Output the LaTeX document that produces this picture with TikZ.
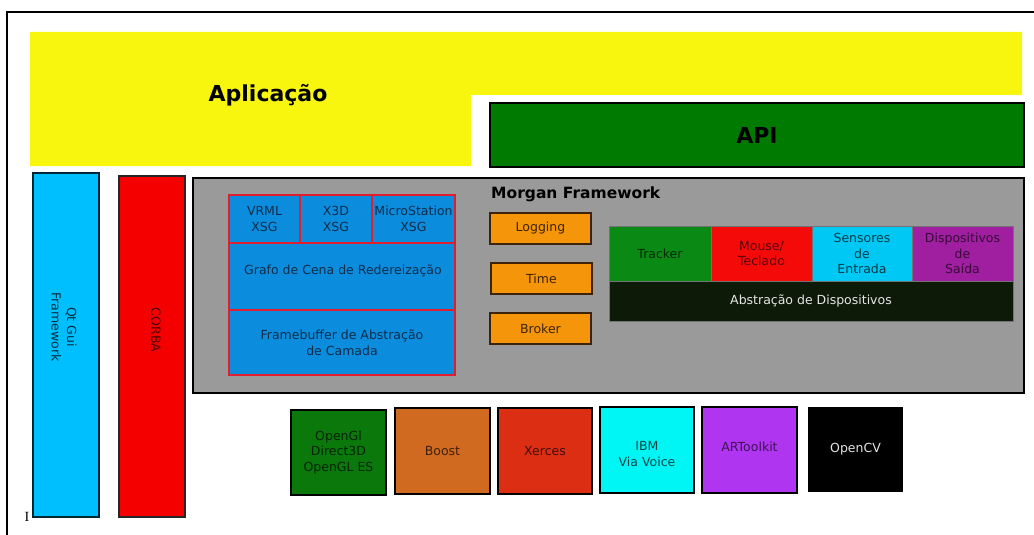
\documentclass[tikz,border=0pt]{standalone}
\usepackage{fontspec}
\setmainfont{DejaVu Sans}
\newfontfamily\serifI{Liberation Serif}
\definecolor{appyellow}{RGB}{248,245,15}
\definecolor{apigreen}{RGB}{0,122,0}
\definecolor{qtcyan}{RGB}{0,191,255}
\definecolor{corbared}{RGB}{245,0,0}
\definecolor{morgangray}{RGB}{154,154,154}
\definecolor{sgblue}{RGB}{12,140,220}
\definecolor{sgborder}{RGB}{225,30,45}
\definecolor{sgtext}{RGB}{15,45,75}
\definecolor{utilorange}{RGB}{245,150,10}
\definecolor{utilborder}{RGB}{60,35,10}
\definecolor{trkgreen}{RGB}{10,138,20}
\definecolor{mousered}{RGB}{245,10,10}
\definecolor{senscyan}{RGB}{0,200,245}
\definecolor{disppurple}{RGB}{160,30,160}
\definecolor{absdark}{RGB}{13,26,8}
\definecolor{glgreen}{RGB}{10,120,10}
\definecolor{boostor}{RGB}{208,106,32}
\definecolor{xercred}{RGB}{220,46,18}
\definecolor{ibmcyan}{RGB}{0,245,245}
\definecolor{arpurple}{RGB}{176,53,240}
\tikzset{
  lbl/.style={font=\fontsize{12.5}{15.5}\selectfont, align=center},
  box/.style={lbl, inner sep=0pt, outer sep=0pt},
  bigbox/.style={box, draw=black, line width=2.2pt},
  sgcell/.style={box, fill=sgblue, draw=sgborder, line width=1.6pt, text=sgtext},
  utilbox/.style={box, fill=utilorange, draw=utilborder, line width=1.5pt, text=utilborder},
  devcell/.style={box, draw=black!55, line width=0.8pt},
  libbox/.style={box, draw=black, line width=2.6pt},
  title/.style={font=\bfseries\fontsize{22}{26}\selectfont},
}
% \bx{style}{name}{x1}{y1}{x2}{y2} {text};
\newcommand\bx[6]{%
  \pgfmathsetmacro\bxw{#5-#3}\pgfmathsetmacro\bxh{#6-#4}%
  \node[#1, minimum width=\bxw pt, minimum height=\bxh pt, anchor=north west] (#2) at (#3,#4)}
\begin{document}
\begin{tikzpicture}[x=1pt,y=-1pt]
\useasboundingbox (0,0) rectangle (1034,535);
% frame
\draw[line width=2.5pt] (7,535) -- (7,12) -- (1034,12);
% Aplicacao
\fill[appyellow] (30,32) -- (1022,32) -- (1022,95) -- (471,95) -- (471,166) -- (30,166) -- cycle;
\node[title] (app) at (268,95) {Aplicação};
% API
\bx{bigbox, fill=apigreen, title}{api}{490}{103}{1024}{167} {API};
% Qt and CORBA
\bx{box, fill=qtcyan, draw=black!80!qtcyan, line width=2pt}{qt}{33}{173}{99}{517} {};
\node[lbl, rotate=-90, text=black!75!qtcyan] (qtlbl) at (64,327) {Qt Gui\\Framework};
\bx{box, fill=corbared, draw=black!85, line width=2pt}{corba}{119}{176}{185}{517} {};
\node[lbl, rotate=-90, text=black!70!corbared] (corbalbl) at (156,330) {CORBA};
% Morgan framework
\bx{box, fill=morgangray, draw=black, line width=2.5pt}{morgan}{193}{178}{1024}{393} {};
\node[anchor=west, inner sep=0pt, font=\bfseries\fontsize{15.5}{18}\selectfont] (mtitle) at (491,194) {Morgan Framework};
% scene graph group
\bx{sgcell}{vrml}{229}{195}{300}{243} {VRML\\XSG};
\bx{sgcell}{x3d}{300}{195}{372}{243} {X3D\\XSG};
\bx{sgcell}{micro}{372}{195}{455}{243} {MicroStation\\XSG};
\bx{sgcell}{grafo}{229}{243}{455}{310} {};
\node[lbl, text=sgtext] (grafolbl) at (343,271) {Grafo de Cena de Redereização};
\bx{sgcell}{fb}{229}{310}{455}{375} {Framebuffer de Abstração\\de Camada};
% utilities
\bx{utilbox}{logging}{490}{213}{591}{244} {Logging};
\bx{utilbox}{time}{491}{263}{592}{294} {Time};
\bx{utilbox}{broker}{490}{313}{591}{344} {Broker};
% devices
\bx{devcell, fill=trkgreen, text=black!70!trkgreen}{tracker}{609}{226}{711}{281} {Tracker};
\bx{devcell, fill=mousered, text=black!65!mousered}{mouse}{711}{226}{812}{281} {Mouse/\\Teclado};
\bx{devcell, fill=senscyan, text=black!70!senscyan}{sens}{812}{226}{912}{281} {Sensores\\de\\Entrada};
\bx{devcell, fill=disppurple, text=black!65!disppurple}{disp}{912}{226}{1013}{281} {Dispositivos\\de\\Saída};
\bx{devcell, fill=absdark, text=white!90!black}{abs}{609}{281}{1013}{321} {Abstração de Dispositivos};
% libraries
\bx{libbox, fill=glgreen, text=black!70!glgreen}{gl}{291}{410}{386}{495} {OpenGl\\Direct3D\\OpenGL ES};
\bx{libbox, fill=boostor, text=black!70!boostor}{boost}{395}{408}{490}{494} {Boost};
\bx{libbox, fill=xercred, text=black!70!xercred}{xerces}{498}{408}{592}{494} {Xerces};
\bx{libbox, fill=ibmcyan}{ibm}{600}{407}{694}{493} {};
\node[lbl, text=black!70!ibmcyan] (ibmlbl) at (647,454) {IBM\\Via Voice};
\bx{libbox, fill=arpurple}{artk}{702}{407}{797}{493} {};
\node[lbl, text=black!65!arpurple] (artklbl) at (749.5,447) {ARToolkit};
\bx{box, fill=black, text=white!90!black}{opencv}{808}{407}{903}{492} {OpenCV};
% cursor glyph
\node[inner sep=0pt, font=\serifI\fontsize{14}{15}\selectfont] (cursor) at (27,517) {I};
\end{tikzpicture}
\end{document}
